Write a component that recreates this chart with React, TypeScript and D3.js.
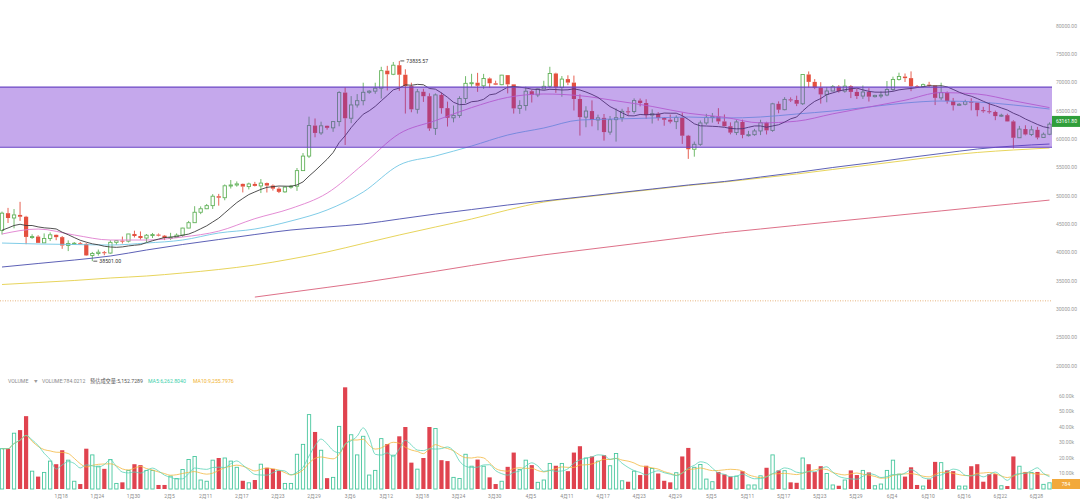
import * as d3 from "d3";

const FONT = "Roboto, 'Noto Sans CJK SC', sans-serif";
const WIDTH = 1080;
const HEIGHT = 501;
const PLOT_RIGHT = 1052;

// daily candles, 2024-01-08 .. 2024-06-30
const opens = [43930,46970,46120,46660,46340,42780,42840,41730,42510,43150,
42740,41260,41620,41660,41550,39510,39850,40080,39930,41820,
42120,42030,43300,42940,42580,43080,43190,43000,42580,42700,
43090,44340,45290,47130,47750,48300,49960,49700,51800,51940,
52140,51660,52130,51780,52280,51840,51300,50730,51570,51730,
54480,57040,62430,61130,62390,62030,63130,68250,63720,66070,
66820,68300,68500,69020,72120,71480,73080,71400,69400,65300,
68390,67610,61930,67840,65500,63800,64220,67210,69880,69990,
69450,70740,69890,69640,71330,69700,65460,65960,68490,67840,
68900,69360,71620,69150,70630,70010,67120,63920,64990,63420,
63790,61280,63470,63820,64940,64920,66840,66410,64280,64500,
63770,63460,63120,63840,60640,58250,59120,62890,63890,64010,
63160,62310,61190,63070,60790,60820,61480,62940,61580,66270,
65230,67050,66940,66280,71450,70140,69120,67930,68530,69290,
68510,69390,68370,67640,68350,67530,67760,67820,68800,70570,
71080,70800,69360,69310,69650,69510,67320,68240,66750,66010,
66190,66640,66490,65150,64960,64830,64100,64260,63160,60280,
61810,60860,61680,60320,60900];

const highs = [47250,47900,47700,48970,46500,43250,43080,43400,43570,43200,
42930,42170,41880,41880,41690,40130,40550,40300,42200,42200,
42840,43310,43880,43740,43290,43480,43380,43120,43500,43400,
44390,45600,48200,48170,48590,50330,50370,52040,52820,52570,
52200,52360,52490,52990,52370,52040,51550,51690,51950,54940,
57580,64000,63680,63110,62430,63230,68500,69170,67630,67980,
69990,68670,69990,72800,72970,73650,73835.57,72360,70000,68890,
68920,68120,68100,68240,66650,65970,67600,71150,71560,71730,
71550,70910,70350,71370,71340,69700,66900,69290,68720,69000,
70330,72800,71760,71170,71300,71250,67940,65840,66870,64360,
64470,64120,65450,65390,65680,67230,67200,67070,65300,64800,
63920,64370,64230,64730,60780,59600,63320,64500,64650,65500,
64390,62990,63420,63470,61490,61850,63450,63100,66440,66700,
67450,67400,67700,71500,71980,70630,70080,69240,69580,69560,
70600,69560,68900,69500,69020,67860,68460,70290,71060,71760,
71620,71990,69590,69850,70150,69560,69990,68450,67300,66400,
66980,67250,66490,65730,66480,65070,64520,64520,63370,62370,
62480,62390,62200,61200,63000];

const lows = [43200,45240,44300,45600,41500,42440,41720,41700,42050,42200,
40680,40280,41450,41500,39430,38501,39480,39550,39820,41400,
41620,41800,42680,42300,41880,42580,42880,42220,42260,42580,
42790,44330,45250,46800,47690,47710,48300,49250,51320,51640,
50630,51160,51680,50520,50620,50950,50520,50580,51280,50900,
54450,56700,60360,60780,61700,61320,62300,59000,62850,65600,
66000,68030,68040,67190,68620,71330,68560,64550,64780,64540,
66600,61500,60780,64530,62260,63000,63800,66380,69280,68380,
68900,69080,69570,69560,68110,64550,64490,65070,66500,67450,
68820,69040,68200,67520,69560,65090,60660,62130,62300,61600,
59770,60800,59600,63110,64230,64520,65820,63610,62790,63300,
62400,62810,61800,59190,56550,56940,58850,62560,62950,62700,
62260,60880,60750,60190,60490,60630,60750,60860,61330,64600,
65120,66600,65860,66060,69160,68850,66300,66540,68500,68240,
68230,67280,67120,67130,66670,67380,67260,67610,68560,70380,
70120,68500,69210,69130,69230,66050,66900,66300,65080,65880,
66000,65100,64060,64690,64530,63380,63940,63180,58400,60240,
60700,60580,60000,60270,60740];

const closes = [46970,46120,46660,46340,42780,42840,41730,42510,43150,42740,
41260,41620,41660,41550,39510,39850,40080,39930,41820,42120,
42030,43300,42940,42580,43080,43190,43000,42580,42700,43090,
44340,45290,47130,47750,48300,49960,49700,51800,51940,52140,
51660,52130,51780,52280,51840,51300,50730,51570,51730,54480,
57040,62430,61130,62390,62030,63130,68250,63720,66070,66820,
68300,68500,69020,72120,71480,73080,71400,69400,65300,68390,
67610,61930,67840,65500,63800,64220,67210,69880,69990,69450,
70740,69890,69640,71330,69700,65460,65960,68490,67840,68900,
69360,71620,69150,70630,70010,67120,63920,64990,63420,63790,
61280,63470,63820,64940,64920,66840,66410,64280,64500,63770,
63460,63120,63840,60640,58250,59120,62890,63890,64010,63160,
62310,61190,63070,60790,60820,61480,62940,61580,66270,65230,
67050,66940,66280,71450,70140,69120,67930,68530,69290,68510,
69390,68370,67640,68350,67530,67760,67820,68800,70570,71080,
70800,69360,69310,69650,69510,67320,68240,66750,66010,66190,
66640,66490,65150,64960,64830,64100,64260,63160,60280,61810,
60860,61680,60320,60900,62680];

// closes of the nine days before the first candle (for the MA10 line)
const priorCloses = [42140, 42280, 44180, 44950, 42850, 44150, 44160, 43970, 43930];

// volume in thousands
const volumes = [26,26,36,38,47,11.5,8,10.7,18,16,
25,18.6,5,3.2,26,22,14.7,13,19,3.6,
4.3,12,16,15.4,12,12,2.6,2.6,8.3,6.8,
12.6,19,21,5.8,5,18.6,20,20,18,14,
5.3,4,5.8,16,13.7,13,11.8,3.6,3.6,22.4,
28.8,48,36.8,25,7,7.5,40.4,65.6,35,22,
34,9,12,32.5,29,21.8,34,40,17,12.8,
20,40,39,18.6,18,7.5,6.8,22.4,14.7,19,
14.7,7.5,3.2,5,14.3,23.5,12.6,18.6,15.4,4.3,
5.8,16.5,15,16.5,11.5,23.5,27.6,20,21,18,
21.8,15,22.9,5.3,4.7,11.5,9,15,13.2,10,
5.3,4.3,10.5,21,26.5,14,15.8,6.4,4.7,11,
9.4,8,8.3,11.5,2.6,2.6,8.5,13.7,22,12,
11.8,4.3,4,20,16,11,14.7,10,2.6,2.1,
5.8,12,9,12,10.7,2.1,3.2,12,18.6,9.6,
8,14,2.6,1.9,6.2,17.5,17,12,11.5,1.9,
1.9,14.7,16,4.7,9.6,9.6,2.1,1.9,21,14.7,
11,10.7,11,3,4];

const dateLabels = ["1月18","1月24","1月30","2月5","2月11","2月17","2月23","2月29","3月6","3月12","3月18","3月24","3月30","4月5","4月11","4月17","4月23","4月29","5月5","5月11","5月17","5月23","5月29","6月4","6月10","6月16","6月22","6月28"];
const labelDays = [10,16,22,28,34,40,46,52,58,64,70,76,82,88,94,100,106,112,118,124,130,136,142,148,154,160,166,172];

const priceTicks = [80000,75000,70000,65000,60000,55000,50000,45000,40000,35000,30000,25000,20000];
const volumeTicks = [60,50,40,30,20,10];

// longer moving averages, every six days
const maDays = [0,6,12,18,24,30,36,42,48,54,60,66,72,78,84,90,96,102,108,114,120,126,132,138,144,150,156,162,168,174];
const maPink = [43290,44170,43120,42230,42230,42760,43800,46000,47800,50500,55600,61000,63300,65600,67400,68000,67700,66800,65800,64600,63900,62900,63200,64500,65700,66900,68250,68000,66800,65600];
const maCyan = [41700,41530,41440,41350,41700,42230,43470,44170,45590,47530,50700,55470,57060,58820,60760,62000,63410,63590,63760,63940,63760,63940,64470,65000,65710,66410,66760,66590,66060,65350];
const maBlue = [37470,38090,38700,39410,40470,41440,42320,43200,44000,44530,45060,45940,46820,47610,48410,49120,49820,50530,51230,51940,52560,53350,54150,55030,55820,56700,57500,58290,58820,59170];
const maYellow = [34380,34730,35090,35530,35880,36410,37030,37820,38880,40120,41620,43120,44530,45940,47530,48940,49730,50440,51140,51850,52470,53170,53880,54680,55470,56260,57060,57680,58120,58470];
const maRed = [null,null,null,null,null,null,null,32160,33020,33870,34740,35720,36710,37740,38720,39610,40400,41180,41970,42770,43540,44180,44830,45470,46100,46740,47370,48010,48640,49280];
const flatLevel = 31500;

const rangeBox = [58600, 69200];
const lastPrice = 63161.8;
const lastVolumeLabel = "784";

const headerParts = [
  { text: "VOLUME", x: 8, color: "#8a8a8a" },
  { text: "▼", x: 34, color: "#9a9a9a", size: 3.6 },
  { text: "VOLUME:784.0212", x: 42, color: "#8a8a8a" },
  { text: "预估成交量:5,152.7289", x: 90, color: "#555555" },
  { text: "MA5:6,262.8040", x: 148, color: "#3ccfab" },
  { text: "MA10:9,255.7976", x: 193, color: "#f0b232" },
];

const movingAverage = (vals: number[], n: number, prior: number[] = []) => {
  const all = prior.concat(vals);
  return vals.map((_, i) => {
    const end = prior.length + i + 1;
    return d3.mean(all.slice(Math.max(0, end - n), end)) as number;
  });
};

const UP = "#62b25a";
const DOWN = "#e4503f";
const VOL_UP = "#48c79e";
const VOL_DOWN = "#e0434f";

export default function App() {
  const x = d3.scaleLinear().domain([0, 174]).range([2, 1049.5]);
  const yP = d3.scaleLinear().domain([20000, 80000]).range([366, 26]);
  const yV = d3.scaleLinear().domain([0, 60]).range([489, 396]);
  const bw = 4.2;

  const ma10 = movingAverage(closes, 10, priorCloses);
  const volMa5 = movingAverage(volumes, 5);
  const volMa10 = movingAverage(volumes, 10);

  const priceLine = d3
    .line<number>()
    .x((_, i) => x(i))
    .y((d) => yP(d));
  const sampledLine = d3
    .line<number | null>()
    .defined((d) => d != null)
    .x((_, i) => x(maDays[i]))
    .y((d) => yP(d as number))
    .curve(d3.curveMonotoneX);
  const volLine = d3
    .line<number>()
    .x((_, i) => x(i))
    .y((d) => yV(d))
    .curve(d3.curveMonotoneX);

  const hiIdx = d3.maxIndex(highs);
  const loIdx = d3.minIndex(lows);

  return (
    <div style={{ position: "absolute", left: 0, top: 0 }}>
      <svg width={WIDTH} height={HEIGHT} style={{ display: "block", fontFamily: FONT }}>
        <rect width={WIDTH} height={HEIGHT} fill="#ffffff" />
        <defs>
          <clipPath id="plot">
            <rect x={0} y={0} width={PLOT_RIGHT} height={HEIGHT} />
          </clipPath>
        </defs>

        <g clipPath="url(#plot)">
          {/* candles */}
          {closes.map((c, i) => {
            const o = opens[i];
            const up = c >= o;
            const cx = x(i);
            const top = yP(Math.max(o, c));
            const h = Math.max(1, yP(Math.min(o, c)) - top);
            const col = up ? UP : DOWN;
            return (
              <g key={i}>
                <line x1={cx} x2={cx} y1={yP(highs[i])} y2={top} stroke={col} strokeWidth={0.9} />
                <line x1={cx} x2={cx} y1={top + h} y2={yP(lows[i])} stroke={col} strokeWidth={0.9} />
                {up ? (
                  <rect x={cx - bw / 2 + 0.45} y={top} width={bw - 0.9} height={h} fill="#ffffff" stroke={col} strokeWidth={0.9} />
                ) : (
                  <rect x={cx - bw / 2} y={top} width={bw} height={h} fill={col} />
                )}
              </g>
            );
          })}

          {/* moving averages */}
          <line x1={0} x2={PLOT_RIGHT} y1={yP(flatLevel)} y2={yP(flatLevel)} stroke="#e2a25e" strokeWidth={0.8} strokeDasharray="1 1.5" />
          <path d={sampledLine(maRed) ?? ""} fill="none" stroke="#d9607a" strokeWidth={0.9} />
          <path d={sampledLine(maYellow) ?? ""} fill="none" stroke="#e4cf4a" strokeWidth={0.9} />
          <path d={sampledLine(maBlue) ?? ""} fill="none" stroke="#4b4fae" strokeWidth={0.9} />
          <path d={sampledLine(maCyan) ?? ""} fill="none" stroke="#72c6e4" strokeWidth={0.9} />
          <path d={sampledLine(maPink) ?? ""} fill="none" stroke="#e07fcf" strokeWidth={0.9} />
          <path d={priceLine(ma10) ?? ""} fill="none" stroke="#3c3c3c" strokeWidth={0.9} />

          {/* range box */}
          <rect
            x={0}
            y={yP(rangeBox[1])}
            width={PLOT_RIGHT}
            height={yP(rangeBox[0]) - yP(rangeBox[1])}
            fill="rgb(110,38,208)"
            fillOpacity={0.4}
          />
          <line x1={0} x2={PLOT_RIGHT} y1={yP(rangeBox[1])} y2={yP(rangeBox[1])} stroke="#6a44c4" strokeWidth={1.2} />
          <line x1={0} x2={PLOT_RIGHT} y1={yP(rangeBox[0])} y2={yP(rangeBox[0])} stroke="#6a44c4" strokeWidth={1.2} />

          {/* volume */}
          {volumes.map((v, i) => {
            const up = closes[i] >= opens[i];
            const cx = x(i);
            const top = yV(v);
            const h = yV(0) - top;
            return up ? (
              <rect key={i} x={cx - bw / 2 + 0.45} y={top} width={bw - 0.9} height={h} fill="#ffffff" stroke={VOL_UP} strokeWidth={0.9} />
            ) : (
              <rect key={i} x={cx - bw / 2} y={top} width={bw} height={h} fill={VOL_DOWN} />
            );
          })}
          <path d={volLine(volMa10) ?? ""} fill="none" stroke="#f3b740" strokeWidth={0.8} />
          <path d={volLine(volMa5) ?? ""} fill="none" stroke="#5ad3b6" strokeWidth={0.8} />
        </g>

        {/* high / low marks */}
        <line x1={x(hiIdx) + 1} x2={x(hiIdx) + 5} y1={yP(highs[hiIdx])} y2={yP(highs[hiIdx])} stroke="#333" strokeWidth={0.8} />
        <text x={x(hiIdx) + 7} y={yP(highs[hiIdx]) + 1.8} fontSize={5.2} fill="#333">
          {highs[hiIdx].toFixed(2)}
        </text>
        <line x1={x(loIdx) + 1} x2={x(loIdx) + 5} y1={yP(lows[loIdx])} y2={yP(lows[loIdx])} stroke="#333" strokeWidth={0.8} />
        <text x={x(loIdx) + 7} y={yP(lows[loIdx]) + 1.8} fontSize={5.2} fill="#333">
          {lows[loIdx].toFixed(2)}
        </text>

        {/* price axis */}
        {priceTicks.map((t) => (
          <text key={t} x={1077} y={yP(t) + 1.8} fontSize={5} fill="#9a9a9a" textAnchor="end">
            {t.toFixed(2)}
          </text>
        ))}
        <rect x={1052} y={yP(lastPrice) - 5.5} width={28} height={11} fill="#2f9e3a" />
        <text x={1077} y={yP(lastPrice) + 1.8} fontSize={5} fill="#ffffff" textAnchor="end">
          {lastPrice.toFixed(2)}
        </text>

        {/* volume axis */}
        {volumeTicks.map((t) => (
          <text key={t} x={1074} y={yV(t) + 1.8} fontSize={5} fill="#9a9a9a" textAnchor="end">
            {t.toFixed(2) + "k"}
          </text>
        ))}
        <rect x={1052} y={479} width={28} height={10} fill="#f2a93b" />
        <text x={1066} y={486} fontSize={5} fill="#ffffff" textAnchor="middle">
          {lastVolumeLabel}
        </text>

        {/* header */}
        {headerParts.map((p) => (
          <text key={p.text} x={p.x} y={383} fontSize={p.size ?? 5.2} fill={p.color}>
            {p.text}
          </text>
        ))}

        {/* date axis */}
        {dateLabels.map((d, i) => (
          <text key={d} x={x(labelDays[i]) - 1} y={498} fontSize={5} fill="#8a8a8a" textAnchor="middle">
            {d}
          </text>
        ))}
      </svg>
    </div>
  );
}
